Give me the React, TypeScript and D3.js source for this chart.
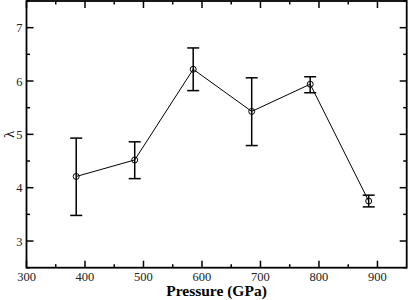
import React, { useLayoutEffect, useRef } from "react";
import * as d3 from "d3";

const pressure = [385, 485, 585, 685, 785, 885];
const lambda = [4.21, 4.52, 6.22, 5.43, 5.94, 3.75];
const errLow = [3.48, 4.17, 5.82, 4.79, 5.78, 3.64];
const errHigh = [4.93, 4.86, 6.62, 6.06, 6.08, 3.86];
const xTicks = [300, 400, 500, 600, 700, 800, 900];
const xMinor = [350, 450, 550, 650, 750, 850];
const yTicks = [3, 4, 5, 6, 7];
const yMinor = [2.5, 3.5, 4.5, 5.5, 6.5, 7.5];

const W = 409, H = 300;
const L = 26.5, R = 406.7, T = 1, B = 267.7;
const SERIF = "'Liberation Serif', 'Times New Roman', Times, serif";

export default function App() {
  const svgRef = useRef<SVGSVGElement>(null);
  const x = d3.scaleLinear().domain([300, 950]).range([L, R]);
  const y = d3.scaleLinear().domain([2.5, 7.5]).range([B, T]);
  const line = d3.line<number>().x((_, i) => x(pressure[i])).y((d) => y(d));
  const maj = 7, mnr = 3.5;

  useLayoutEffect(() => {
    if (svgRef.current) {
      d3.select(svgRef.current).selectAll("text").style("font-family", SERIF, "important");
    }
  });

  return (
    <svg ref={svgRef} width={W} height={H} style={{ position: "absolute", left: 0, top: 0 }}>
      <style>{`svg text { font-family: ${SERIF} !important; }`}</style>
      <rect x={0} y={0} width={W} height={H} fill="#fff" />
      {xTicks.map((t) => (
        <g key={"xt" + t}>
          <line x1={x(t)} x2={x(t)} y1={B} y2={B - maj} stroke="#000" strokeWidth={1.5} />
          <line x1={x(t)} x2={x(t)} y1={T} y2={T + maj} stroke="#000" strokeWidth={1.5} />
          <text x={x(t)} y={280.5} textAnchor="middle" fontSize={12.5} fill="#222">{String(t)}</text>
        </g>
      ))}
      {xMinor.map((t) => (
        <g key={"xm" + t}>
          <line x1={x(t)} x2={x(t)} y1={B} y2={B - mnr} stroke="#000" strokeWidth={1.5} />
          <line x1={x(t)} x2={x(t)} y1={T} y2={T + mnr} stroke="#000" strokeWidth={1.5} />
        </g>
      ))}
      {yTicks.map((t) => (
        <g key={"yt" + t}>
          <line x1={L} x2={L + maj} y1={y(t)} y2={y(t)} stroke="#000" strokeWidth={1.5} />
          <line x1={R} x2={R - maj} y1={y(t)} y2={y(t)} stroke="#000" strokeWidth={1.5} />
          <text x={22.5} y={y(t) + 4.5} textAnchor="end" fontSize={12.5} fill="#222">{String(t)}</text>
        </g>
      ))}
      {yMinor.map((t) => (
        <g key={"ym" + t}>
          <line x1={L} x2={L + mnr} y1={y(t)} y2={y(t)} stroke="#000" strokeWidth={1.5} />
          <line x1={R} x2={R - mnr} y1={y(t)} y2={y(t)} stroke="#000" strokeWidth={1.5} />
        </g>
      ))}
      <rect x={L} y={T} width={R - L} height={B - T} fill="none" stroke="#000" strokeWidth={1.8} />
      {pressure.map((p, i) => (
        <g key={"e" + i} stroke="#000" strokeWidth={1.5}>
          <line x1={x(p)} x2={x(p)} y1={y(errLow[i])} y2={y(errHigh[i])} />
          <line x1={x(p) - 6} x2={x(p) + 6} y1={y(errLow[i])} y2={y(errLow[i])} />
          <line x1={x(p) - 6} x2={x(p) + 6} y1={y(errHigh[i])} y2={y(errHigh[i])} />
        </g>
      ))}
      <path d={line(lambda) || ""} fill="none" stroke="#000" strokeWidth={1} />
      {pressure.map((p, i) => (
        <circle key={"c" + i} cx={x(p)} cy={y(lambda[i])} r={3} fill="none" stroke="#000" strokeWidth={1} />
      ))}
      <text x={216.5} y={296} textAnchor="middle" fontSize={15.5} fontWeight="bold" fill="#000">Pressure (GPa)</text>
      <text x={0} y={0} transform={`translate(14,${y(5)}) rotate(-90)`} textAnchor="middle" fontSize={15} fill="#000">λ</text>
    </svg>
  );
}
